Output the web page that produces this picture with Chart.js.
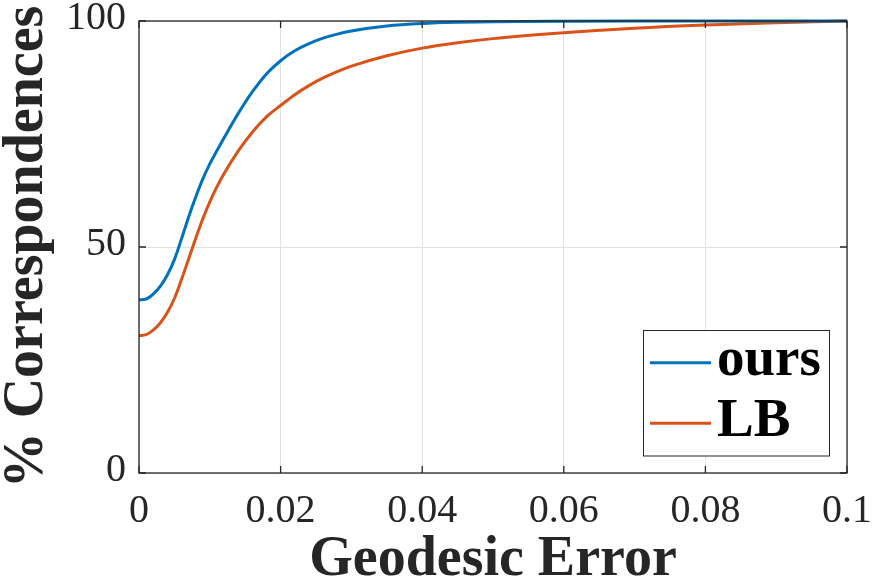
<!DOCTYPE html>
<html>
<head>
<meta charset="utf-8">
<script src="https://cdn.jsdelivr.net/npm/chart.js@4/dist/chart.umd.min.js"></script>
<style>
  html, body { margin: 0; padding: 0; background: #fff; }
  #wrap { width: 873px; height: 583px; }
</style>
</head>
<body>
<div id="wrap"><canvas id="myChart" width="873" height="583"></canvas></div>
<script>
// geodesic error thresholds
const errX = [0, 0.001, 0.002, 0.003, 0.004, 0.005, 0.006, 0.007, 0.008, 0.009,
  0.010, 0.011, 0.012, 0.014, 0.016, 0.018, 0.020, 0.022, 0.024, 0.026,
  0.028, 0.030, 0.035, 0.040, 0.045, 0.050, 0.060, 0.070, 0.080, 0.090, 0.100];

// % correspondences below threshold
const oursY = [38.3, 38.5, 39.6, 41.3, 43.8, 47.2, 51.8, 56.6, 61.0, 65.0,
  68.4, 71.3, 74.1, 79.5, 84.3, 88.3, 91.2, 93.4, 95.0, 96.2,
  97.1, 97.8, 98.9, 99.45, 99.72, 99.86, 99.96, 100, 100, 100, 100];
const lbY = [30.4, 30.6, 31.6, 33.2, 35.5, 38.6, 42.8, 47.3, 51.9, 56.2,
  60.0, 63.3, 66.2, 71.2, 75.4, 78.8, 81.3, 83.7, 85.7, 87.4,
  88.8, 90.0, 92.3, 94.0, 95.2, 96.1, 97.4, 98.4, 99.1, 99.6, 100];

const seriesNames = ["ours", "LB"];
const seriesColors = ["#0072BD", "#D95319"];

const xTicks = [0, 0.02, 0.04, 0.06, 0.08, 0.1];
const xTickLabels = ["0", "0.02", "0.04", "0.06", "0.08", "0.1"];
const yTicks = [0, 50, 100];
const yTickLabels = ["0", "50", "100"];

const axisColor = "#262626";
const gridColor = "#e1e1e1";
const serif = "'Liberation Serif', 'Times New Roman', serif";

function toPoints(ys) {
  return errX.map((x, i) => ({ x: x, y: ys[i] }));
}

function noPad(s) {
  s.paddingLeft = 0;
  s.paddingRight = 0;
  s.paddingTop = 0;
  s.paddingBottom = 0;
}

// frame, inward ticks and legend box, MATLAB style
const frameAndLegend = {
  id: "frameAndLegend",
  afterDatasetsDraw(chart) {
    const { ctx, chartArea: a, scales } = chart;
    ctx.save();
    ctx.strokeStyle = axisColor;
    ctx.lineWidth = 1.3;
    ctx.strokeRect(a.left, a.top, a.right - a.left, a.bottom - a.top);

    const tl = 7;
    ctx.beginPath();
    xTicks.forEach((v) => {
      const px = scales.x.getPixelForValue(v);
      ctx.moveTo(px, a.bottom); ctx.lineTo(px, a.bottom - tl);
      ctx.moveTo(px, a.top); ctx.lineTo(px, a.top + tl);
    });
    yTicks.forEach((v) => {
      const py = scales.y.getPixelForValue(v);
      ctx.moveTo(a.left, py); ctx.lineTo(a.left + tl, py);
      ctx.moveTo(a.right, py); ctx.lineTo(a.right - tl, py);
    });
    ctx.stroke();

    // legend
    const bx = 643.5, by = 330.5, bw = 186, bh = 125.5;
    ctx.fillStyle = "#fff";
    ctx.fillRect(bx, by, bw, bh);
    ctx.lineWidth = 1;
    ctx.strokeRect(bx, by, bw, bh);
    const rows = [362.7, 423.3];
    chart.data.datasets.forEach((ds, i) => {
      const y = rows[i];
      ctx.strokeStyle = ds.borderColor;
      ctx.lineWidth = 3;
      ctx.beginPath();
      ctx.moveTo(650, y);
      ctx.lineTo(711, y);
      ctx.stroke();
      ctx.fillStyle = "#000";
      ctx.font = "bold 55px " + serif;
      ctx.textAlign = "left";
      ctx.textBaseline = "alphabetic";
      ctx.fillText(ds.label, 717, y + 12.5);
    });
    ctx.restore();
  },
};

const data = {
  datasets: [
    {
      label: seriesNames[0],
      data: toPoints(oursY),
      borderColor: seriesColors[0],
      borderWidth: 3,
      pointRadius: 0,
      cubicInterpolationMode: "monotone",
      clip: false,
    },
    {
      label: seriesNames[1],
      data: toPoints(lbY),
      borderColor: seriesColors[1],
      borderWidth: 3,
      pointRadius: 0,
      cubicInterpolationMode: "monotone",
      clip: false,
    },
  ],
};

const config = {
  type: "line",
  data: data,
  options: {
    responsive: false,
    animation: false,
    layout: { padding: { top: 21, right: 26, left: 0, bottom: 0 } },
    plugins: {
      legend: { display: false },
      tooltip: { enabled: false },
    },
    scales: {
      x: {
        type: "linear",
        min: 0,
        max: 0.1,
        afterBuildTicks: (s) => { s.ticks = xTicks.map((v) => ({ value: v })); },
        afterFit: (s) => { s.height = 110; noPad(s); },
        ticks: {
          callback: (v) => xTickLabels[xTicks.indexOf(v)],
          color: axisColor,
          font: { family: serif, size: 40 },
          padding: 14,
          maxRotation: 0,
        },
        grid: { color: gridColor, lineWidth: 1, drawTicks: false },
        border: { display: false },
        title: {
          display: true,
          text: "Geodesic Error",
          color: axisColor,
          font: { family: serif, size: 56, weight: "bold", lineHeight: 0.8 },
          padding: 0,
        },
      },
      y: {
        type: "linear",
        min: 0,
        max: 100,
        afterBuildTicks: (s) => { s.ticks = yTicks.map((v) => ({ value: v })); },
        afterFit: (s) => { s.width = 139; noPad(s); },
        ticks: {
          callback: (v) => yTickLabels[yTicks.indexOf(v)],
          color: axisColor,
          font: { family: serif, size: 40 },
          padding: 13,
          labelOffset: -3,
        },
        grid: { color: gridColor, lineWidth: 1, drawTicks: false },
        border: { display: false },
        title: {
          display: true,
          text: "% Correspondences",
          color: axisColor,
          font: { family: serif, size: 56, weight: "bold", lineHeight: 1.0 },
          padding: 0,
        },
      },
    },
  },
  plugins: [frameAndLegend],
};

const ctx = document.getElementById("myChart").getContext("2d");
const myChart = new Chart(ctx, config);
</script>
</body>
</html>
